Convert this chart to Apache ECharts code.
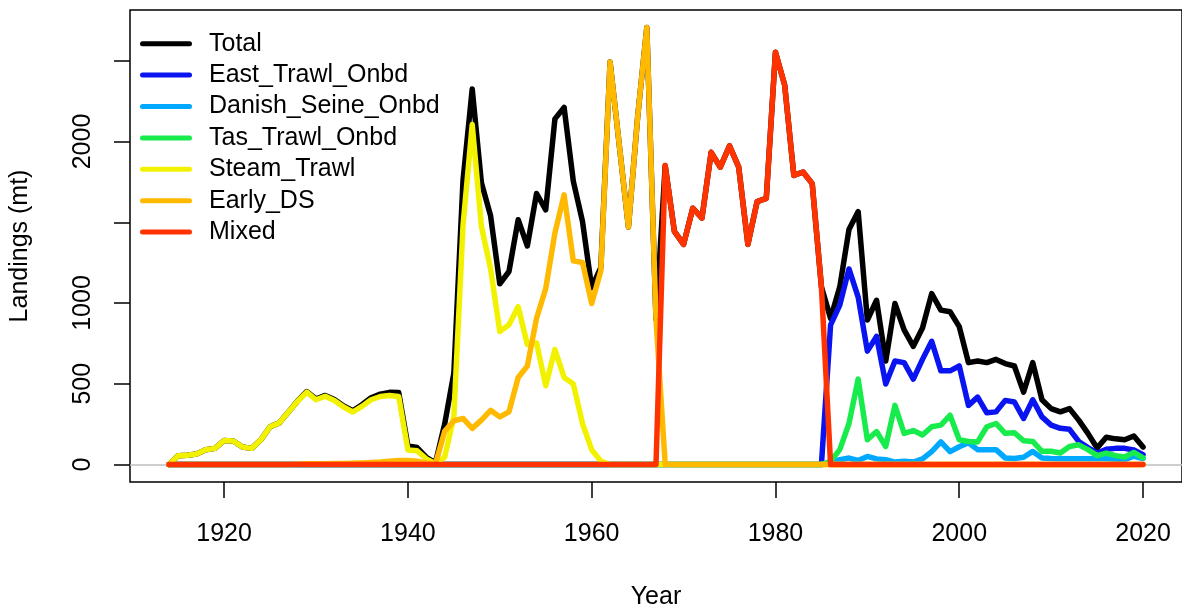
<!DOCTYPE html>
<html>
<head>
<meta charset="utf-8">
<title>Landings by fleet</title>
<script src="https://cdn.jsdelivr.net/npm/echarts@6/dist/echarts.min.js"></script>
<style>
  html, body { margin: 0; padding: 0; background: #ffffff; }
  #chart { width: 1182px; height: 615px; }
</style>
</head>
<body>
<div id="chart"></div>
<script>
// Annual landings (mt) by fleet, one value per year starting at firstYear.
const firstYear = 1914;

const seriesNames = ['Total', 'East_Trawl_Onbd', 'Danish_Seine_Onbd', 'Tas_Trawl_Onbd', 'Steam_Trawl', 'Early_DS', 'Mixed'];
const seriesColors = ['#000000', '#0a14f0', '#00a8ff', '#18ec4c', '#f2f200', '#ffb900', '#ff3300'];

const total = [
  0, 55, 57, 65, 92, 100, 148, 146, 108, 100,            // 1914-1923
  153, 234, 258, 325, 394, 452, 406, 428, 403, 363,      // 1924-1933
  333, 370, 413, 436, 447, 446, 115, 105, 45, 10,        // 1934-1943
  250, 565, 1760, 2325, 1745, 1540, 1119, 1195, 1516, 1353, // 1944-1953
  1678, 1577, 2140, 2211, 1755, 1506, 1095, 1220, 2492, 1980, // 1954-1963
  1470, 2150, 2706, 900, 1851, 1444, 1363, 1587, 1526, 1933, // 1964-1973
  1841, 1973, 1841, 1363, 1628, 1648, 2553, 2350, 1790, 1811, // 1974-1983
  1739, 1100, 905, 1100, 1455, 1566, 895, 1017, 641, 997,    // 1984-1993
  834, 732, 845, 1058, 956, 946, 854, 631, 641, 631,         // 1994-2003
  651, 625, 610, 448, 631, 401, 346, 326, 346, 275,          // 2004-2013
  193, 102, 169, 159, 153, 177, 108                          // 2014-2020
];

const eastTrawlOnbd = [
  0, 0, 0, 0, 0, 0, 0, 0, 0, 0,
  0, 0, 0, 0, 0, 0, 0, 0, 0, 0,
  0, 0, 0, 0, 0, 0, 0, 0, 0, 0,
  0, 0, 0, 0, 0, 0, 0, 0, 0, 0,
  0, 0, 0, 0, 0, 0, 0, 0, 0, 0,
  0, 0, 0, 0, 0, 0, 0, 0, 0, 0,
  0, 0, 0, 0, 0, 0, 0, 0, 0, 0,
  0, 0, 865, 987, 1211, 1037, 702, 793, 499, 641,
  631, 529, 651, 763, 580, 580, 610, 366, 417, 320,
  326, 397, 387, 285, 401, 295, 244, 224, 218, 143,
  105, 70, 95, 100, 100, 90, 61
];

const danishSeineOnbd = [
  0, 0, 0, 0, 0, 0, 0, 0, 0, 0,
  0, 0, 0, 0, 0, 0, 0, 0, 0, 0,
  0, 0, 0, 0, 0, 0, 0, 0, 0, 0,
  0, 0, 0, 0, 0, 0, 0, 0, 0, 0,
  0, 0, 0, 0, 0, 0, 0, 0, 0, 0,
  0, 0, 0, 0, 0, 0, 0, 0, 0, 0,
  0, 0, 0, 0, 0, 0, 0, 0, 0, 0,
  0, 0, 10, 30, 40, 25, 50, 35, 30, 15,
  20, 15, 35, 80, 140, 80, 110, 135, 92, 92,
  92, 41, 37, 45, 81, 41, 37, 35, 35, 35,
  35, 35, 35, 33, 30, 51, 37
];

const tasTrawlOnbd = [
  0, 0, 0, 0, 0, 0, 0, 0, 0, 0,
  0, 0, 0, 0, 0, 0, 0, 0, 0, 0,
  0, 0, 0, 0, 0, 0, 0, 0, 0, 0,
  0, 0, 0, 0, 0, 0, 0, 0, 0, 0,
  0, 0, 0, 0, 0, 0, 0, 0, 0, 0,
  0, 0, 0, 0, 0, 0, 0, 0, 0, 0,
  0, 0, 0, 0, 0, 0, 0, 0, 0, 0,
  0, 0, 20, 92, 254, 529, 153, 204, 112, 366,
  193, 210, 183, 234, 244, 305, 153, 143, 140, 234,
  254, 193, 197, 147, 143, 82, 82, 71, 112, 122,
  92, 55, 71, 55, 47, 75, 41
];

const steamTrawl = [
  0, 55, 57, 65, 92, 100, 148, 146, 108, 100,
  153, 234, 258, 325, 392, 448, 401, 423, 397, 356,
  325, 360, 401, 421, 427, 421, 90, 85, 35, 5,
  45, 295, 1480, 2106, 1475, 1211, 824, 865, 977, 743,
  753, 488, 712, 539, 499, 254, 92, 21, 0, 0,
  0, 0, 0, 0, 0, 0, 0, 0, 0, 0,
  0, 0, 0, 0, 0, 0, 0, 0, 0, 0,
  0, 0, 0, 0, 0, 0, 0, 0, 0, 0,
  0, 0, 0, 0, 0, 0, 0, 0, 0, 0,
  0, 0, 0, 0, 0, 0, 0, 0, 0, 0,
  0, 0, 0, 0, 0, 0, 0
];

const earlyDS = [
  0, 0, 0, 0, 0, 0, 0, 0, 0, 0,
  0, 0, 0, 0, 2, 4, 5, 5, 6, 7,
  8, 10, 12, 15, 20, 25, 25, 20, 10, 5,
  205, 270, 285, 224, 275, 336, 295, 326, 539, 610,
  906, 1089, 1434, 1670, 1261, 1251, 997, 1200, 2492, 1980,
  1470, 2150, 2706, 900, 0, 0, 0, 0, 0, 0,
  0, 0, 0, 0, 0, 0, 0, 0, 0, 0,
  0, 0, 0, 0, 0, 0, 0, 0, 0, 0,
  0, 0, 0, 0, 0, 0, 0, 0, 0, 0,
  0, 0, 0, 0, 0, 0, 0, 0, 0, 0,
  0, 0, 0, 0, 0, 0, 0
];

const mixed = [
  0, 0, 0, 0, 0, 0, 0, 0, 0, 0,
  0, 0, 0, 0, 0, 0, 0, 0, 0, 0,
  0, 0, 0, 0, 0, 0, 0, 0, 0, 0,
  0, 0, 0, 0, 0, 0, 0, 0, 0, 0,
  0, 0, 0, 0, 0, 0, 0, 0, 0, 0,
  0, 0, 0, 0, 1851, 1444, 1363, 1587, 1526, 1933,
  1841, 1973, 1841, 1363, 1628, 1648, 2553, 2350, 1790, 1811,
  1739, 1100, 0, 0, 0, 0, 0, 0, 0, 0,
  0, 0, 0, 0, 0, 0, 0, 0, 0, 0,
  0, 0, 0, 0, 0, 0, 0, 0, 0, 0,
  0, 0, 0, 0, 0, 0, 0
];

const xTickYears = [1920, 1940, 1960, 1980, 2000, 2020];
const yTickValues = [0, 500, 1000, 1500, 2000, 2500];
const yLabelValues = [0, 500, 1000, 2000];

const seriesValues = [total, eastTrawlOnbd, danishSeineOnbd, tasTrawlOnbd, steamTrawl, earlyDS, mixed];

// Axis extents padded by 4% of the data range on each side.
const lastYear = firstYear + total.length - 1;
const xPad = (lastYear - firstYear) * 0.04;
const yMax = Math.max(...seriesValues.map(s => Math.max(...s)));
const yPad = yMax * 0.04;

const fontFamily = '"Liberation Sans", Arial, Helvetica, sans-serif';
const chart = echarts.init(document.getElementById('chart'), null, { renderer: 'canvas' });

const lineSeries = seriesNames.map((name, k) => ({
  name: name,
  type: 'line',
  showSymbol: false,
  symbol: 'none',
  color: seriesColors[k],
  lineStyle: { color: seriesColors[k], width: 5.5, cap: 'round', join: 'round' },
  data: seriesValues[k].map((v, i) => [firstYear + i, v]),
  z: 2,
  markLine: k === 0 ? {
    silent: true,
    symbol: 'none',
    z: 1,
    label: { show: false },
    lineStyle: { color: '#bebebe', type: 'solid', width: 1.5 },
    data: [{ yAxis: 0 }]
  } : undefined
}));

const plainNumber = v => String(v);

chart.setOption({
  animation: false,
  backgroundColor: '#ffffff',
  textStyle: { fontFamily: fontFamily },
  grid: {
    left: 130, top: 10, width: 1053.3, height: 479.3,
    show: true, borderColor: '#000000', borderWidth: 1.5, containLabel: false
  },
  legend: {
    orient: 'vertical',
    left: 135,
    top: 23,
    itemWidth: 52,
    itemHeight: 5,
    itemGap: 0,
    icon: 'path://M2.5,0 H49.5 A2.5,2.5 0 0 1 49.5,5 H2.5 A2.5,2.5 0 0 1 2.5,0 Z',
    selectedMode: false,
    data: seriesNames,
    textStyle: { fontFamily: fontFamily, fontSize: 25, color: '#000000', lineHeight: 31.4, padding: [0, 0, 0, 12] }
  },
  xAxis: {
    type: 'value',
    min: firstYear - xPad,
    max: lastYear + xPad,
    name: 'Year',
    nameLocation: 'middle',
    nameGap: 103,
    nameTextStyle: { fontFamily: fontFamily, fontSize: 25, color: '#000000' },
    axisLine: { show: false, onZero: false },
    axisTick: { show: true, length: 16, customValues: xTickYears, lineStyle: { color: '#000000', width: 1.5 } },
    axisLabel: { show: true, margin: 40, customValues: xTickYears, formatter: plainNumber, fontFamily: fontFamily, fontSize: 25, color: '#000000' },
    splitLine: { show: false }
  },
  yAxis: {
    type: 'value',
    min: -yPad,
    max: yMax + yPad,
    name: 'Landings (mt)',
    nameLocation: 'middle',
    nameGap: 97,
    nameTextStyle: { fontFamily: fontFamily, fontSize: 25, color: '#000000' },
    axisLine: { show: false, onZero: false },
    axisTick: { show: true, length: 16, customValues: yTickValues, lineStyle: { color: '#000000', width: 1.5 } },
    axisLabel: { show: true, rotate: 90, margin: 34, customValues: yLabelValues, formatter: plainNumber, fontFamily: fontFamily, fontSize: 25, color: '#000000' },
    splitLine: { show: false }
  },
  series: lineSeries
});
</script>
</body>
</html>
